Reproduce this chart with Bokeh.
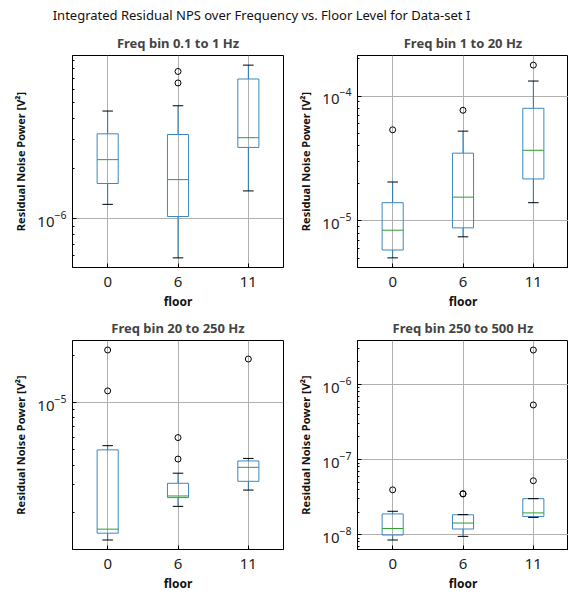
import numpy as np
from bokeh.plotting import figure
from bokeh.layouts import gridplot, column
from bokeh.models import FixedTicker, Range1d, Div
from bokeh.embed import file_html
from bokeh.resources import INLINE

suptitle = "Integrated Residual NPS over Frequency vs. Floor Level for Data-set I"
floors = ["0", "6", "11"]
titles = ["Freq bin 0.1 to 1 Hz", "Freq bin 1 to 20 Hz",
          "Freq bin 20 to 250 Hz", "Freq bin 250 to 500 Hz"]

# Panel 1: 0.1 to 1 Hz
p1_whislo = [1.22e-6, 5.8e-7, 1.47e-6]
p1_q1 = [1.63e-6, 1.03e-6, 2.69e-6]
p1_med = [2.27e-6, 1.72e-6, 3.08e-6]
p1_q3 = [3.25e-6, 3.22e-6, 6.96e-6]
p1_whishi = [4.46e-6, 4.80e-6, 8.44e-6]
p1_fliers = [[], [7.73e-6, 6.59e-6], []]

# Panel 2: 1 to 20 Hz
p2_whislo = [5.06e-6, 7.46e-6, 1.40e-5]
p2_q1 = [5.85e-6, 8.8e-6, 2.17e-5]
p2_med = [8.43e-6, 1.55e-5, 3.68e-5]
p2_q3 = [1.40e-5, 3.49e-5, 7.98e-5]
p2_whishi = [2.05e-5, 5.24e-5, 1.32e-4]
p2_fliers = [[5.37e-5], [7.70e-5], [1.77e-4]]

# Panel 3: 20 to 250 Hz
p3_whislo = [1.33e-6, 2.18e-6, 2.77e-6]
p3_q1 = [1.47e-6, 2.48e-6, 3.15e-6]
p3_med = [1.56e-6, 2.54e-6, 3.87e-6]
p3_q3 = [5.0e-6, 3.06e-6, 4.25e-6]
p3_whishi = [5.32e-6, 3.55e-6, 4.41e-6]
p3_fliers = [[2.17e-5, 1.19e-5], [5.99e-6, 4.37e-6], [1.90e-5]]

# Panel 4: 250 to 500 Hz
p4_whislo = [8.5e-9, 9.5e-9, 1.70e-8]
p4_q1 = [9.9e-9, 1.19e-8, 1.75e-8]
p4_med = [1.21e-8, 1.43e-8, 1.95e-8]
p4_q3 = [1.89e-8, 1.84e-8, 3.02e-8]
p4_whishi = [2.05e-8, 1.85e-8, 3.02e-8]
p4_fliers = [[3.96e-8], [3.48e-8, 3.52e-8], [2.88e-6, 5.34e-7, 5.23e-8]]

FONT = "Noto Sans"
BOX = "#3a87c4"
WHISK = "#1f77b4"
MED = "#2ca02c"
GRID = "#b0b0b0"


def make_panel(title, whislo, q1, med, q3, whishi, fliers, width, height,
               bl, br, bt, bb):
    pos = np.arange(1, len(floors) + 1, dtype=float)
    allv = np.array(whislo + whishi + [v for f in fliers for v in f])
    lo, hi = np.log10(allv.min()), np.log10(allv.max())
    m = 0.05 * (hi - lo)
    ymin, ymax = 10 ** (lo - m), 10 ** (hi + m)

    p = figure(width=width, height=height, y_axis_type="log",
               x_range=Range1d(0.5, len(floors) + 0.5),
               y_range=Range1d(ymin, ymax),
               output_backend="svg", toolbar_location=None,
               min_border_left=bl, min_border_right=br,
               min_border_top=bt, min_border_bottom=bb)
    p.title.text = title
    p.title.align = "center"
    p.title.text_font = FONT
    p.title.text_font_size = "13px"
    p.title.text_font_style = "bold"
    p.title.standoff = 7
    p.outline_line_color = "black"
    p.outline_line_alpha = 1
    p.outline_line_width = 1
    p.background_fill_color = "white"

    kmin, kmax = int(np.floor(np.log10(ymin))), int(np.ceil(np.log10(ymax)))
    majors = [10.0 ** k for k in range(kmin, kmax + 1) if ymin <= 10.0 ** k <= ymax]
    minors = [mm * 10.0 ** k for k in range(kmin, kmax + 1) for mm in range(2, 10)
              if ymin <= mm * 10.0 ** k <= ymax]
    p.yaxis.ticker = FixedTicker(ticks=majors, minor_ticks=minors)
    p.ygrid.ticker = FixedTicker(ticks=majors)
    p.xaxis.ticker = FixedTicker(ticks=list(pos))
    p.xgrid.ticker = FixedTicker(ticks=list(pos))
    p.xaxis.major_label_overrides = {int(x): f for x, f in zip(pos, floors)}

    for ax in (p.xaxis[0], p.yaxis[0]):
        ax.major_tick_in = 4
        ax.major_tick_out = 0
        ax.minor_tick_in = 2
        ax.minor_tick_out = 0
        ax.axis_line_color = "black"
        ax.major_tick_line_color = "black"
        ax.minor_tick_line_color = "black"
        ax.major_label_text_font = FONT
        ax.major_label_text_font_size = "15px"
        ax.major_label_text_color = "#222222"
        ax.axis_label_text_font = FONT
        ax.axis_label_text_font_style = "bold"
        ax.axis_label_text_color = "#111111"
    p.xaxis.minor_tick_line_color = None
    p.xaxis.major_label_standoff = 9
    p.xaxis.axis_label = "floor"
    p.xaxis.axis_label_text_font_size = "12px"
    p.xaxis.axis_label_standoff = 3
    p.yaxis.major_label_standoff = 6
    p.yaxis.axis_label = "Residual Noise Power [V²]"
    p.yaxis.axis_label_text_font_size = "11px"
    p.yaxis.axis_label_standoff = 6

    for g in (p.xgrid[0], p.ygrid[0]):
        g.grid_line_color = GRID
        g.grid_line_alpha = 1
        g.grid_line_width = 1

    hw = 0.15
    p.segment(x0=pos, y0=q1, x1=pos, y1=whislo, line_color=WHISK, line_width=1)
    p.segment(x0=pos, y0=q3, x1=pos, y1=whishi, line_color=WHISK, line_width=1)
    p.quad(left=pos - hw, right=pos + hw, bottom=q1, top=q3,
           fill_color=None, line_color=BOX, line_width=1)
    p.segment(x0=pos - hw / 2, y0=whislo, x1=pos + hw / 2, y1=whislo,
              line_color="black", line_width=1)
    p.segment(x0=pos - hw / 2, y0=whishi, x1=pos + hw / 2, y1=whishi,
              line_color="black", line_width=1)
    p.segment(x0=pos - hw, y0=med, x1=pos + hw, y1=med,
              line_color=MED, line_width=1)
    fx = [x for x, f in zip(pos, fliers) for _ in f]
    fy = [v for f in fliers for v in f]
    if fy:
        p.scatter(x=fx, y=fy, marker="circle", size=6, fill_color=None,
                  line_color="black", line_width=1)
    return p


pa = make_panel(titles[0], p1_whislo, p1_q1, p1_med, p1_q3, p1_whishi, p1_fliers,
                285, 284, 72, 2, 27, 44)
pb = make_panel(titles[1], p2_whislo, p2_q1, p2_med, p2_q3, p2_whishi, p2_fliers,
                283, 284, 72, 0, 27, 44)
pc = make_panel(titles[2], p3_whislo, p3_q1, p3_med, p3_q3, p3_whishi, p3_fliers,
                285, 282, 72, 2, 28, 44)
pd = make_panel(titles[3], p4_whislo, p4_q1, p4_med, p4_q3, p4_whishi, p4_fliers,
                283, 282, 72, 0, 28, 44)

head = Div(text=suptitle, width=523, height=28, margin=(0, 0, 0, 0),
           styles={"font-family": FONT, "font-size": "13px",
                   "text-align": "center", "line-height": "30px",
                   "color": "#111111"})
grid = gridplot([[pa, pb], [pc, pd]], toolbar_location=None)
layout = column(head, grid)

open("out.html", "w").write(file_html(layout, INLINE))
